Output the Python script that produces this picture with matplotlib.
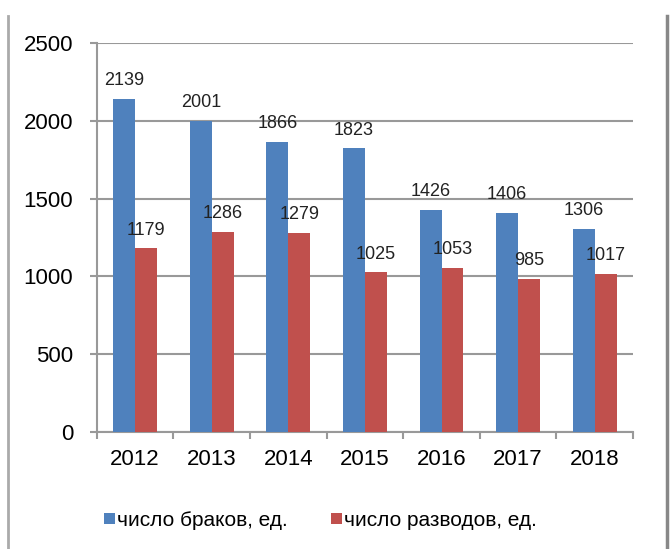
import numpy as np
import matplotlib.pyplot as plt
from matplotlib.lines import Line2D

plt.rcParams['font.family'] = ['Liberation Sans', 'DejaVu Sans']
plt.rcParams['font.size'] = 12

# data
years = ['2012', '2013', '2014', '2015', '2016', '2017', '2018']
marriages = [2139, 2001, 1866, 1823, 1426, 1406, 1306]
divorces = [1179, 1286, 1279, 1025, 1053, 985, 1017]
series_names = ['число браков, ед.', 'число разводов, ед.']

BLUE = '#4F81BD'
RED = '#C0504D'
GRAY = '#999999'

fig = plt.figure(figsize=(6.72, 5.49), dpi=100)
ax = fig.add_axes([0.144, 0.213, 0.798, 0.709])

x = np.arange(len(years))
w = 0.285
b1 = ax.bar(x - w / 2, marriages, w, color=BLUE, label=series_names[0], zorder=3)
b2 = ax.bar(x + w / 2, divorces, w, color=RED, label=series_names[1], zorder=3)

# value labels above bars
for bars, vals in ((b1, marriages), (b2, divorces)):
    for rect, v in zip(bars, vals):
        ax.annotate(str(v), (rect.get_x() + rect.get_width() / 2, v),
                    xytext=(0, 7), textcoords='offset points',
                    ha='center', va='bottom', fontsize=13, color='#222222')

ax.set_xlim(-0.5, len(years) - 0.5)
ax.set_ylim(0, 2500)
ax.set_yticks(np.arange(0, 2501, 500))
ax.set_xticks(x)
ax.set_xticklabels(years, fontsize=16)
ax.set_xticks(np.arange(-0.5, len(years)), minor=True)
ax.tick_params(axis='y', labelsize=16, length=5, width=1.5, color=GRAY, pad=12)
ax.tick_params(axis='x', which='major', length=0, pad=12)
ax.tick_params(axis='x', which='minor', length=5, width=1.5, color=GRAY)
ax.grid(axis='y', color=GRAY, linewidth=1.5, zorder=0)
for s in ['top', 'right']:
    ax.spines[s].set_visible(False)
for s in ['left', 'bottom']:
    ax.spines[s].set_color(GRAY)
    ax.spines[s].set_linewidth(1.5)

fig.legend(handles=[b1, b2], loc='center left', bbox_to_anchor=(0.127, 0.052),
           ncol=2, frameon=False, fontsize=15, handlelength=0.5,
           handleheight=0.5, handletextpad=0.1, columnspacing=2.1)

# outer frame lines of the original picture
fig.add_artist(Line2D([0.012, 0.012], [0.0, 0.97], color='#aaaaaa', lw=2,
                      transform=fig.transFigure))
fig.add_artist(Line2D([0.992, 0.992], [0.0, 0.97], color='#888888', lw=2.5,
                      transform=fig.transFigure))

fig.savefig('out.png', dpi=100)
